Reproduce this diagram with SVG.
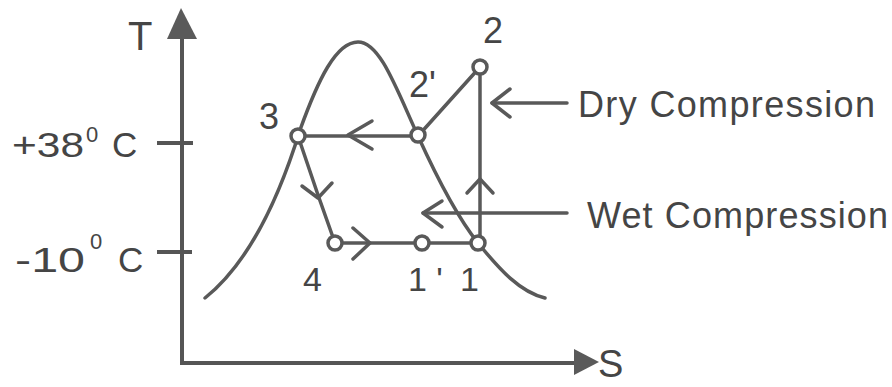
<svg xmlns="http://www.w3.org/2000/svg" width="892" height="387" viewBox="0 0 892 387">
<style>
.ln{fill:none;stroke:#595959;stroke-width:3.5;stroke-linecap:round;stroke-linejoin:round}
.ax{fill:none;stroke:#555;stroke-width:4}
.ah{fill:#5a5a5a;stroke:none}
.pt{fill:#fff;stroke:#595959;stroke-width:3.5}
.t{font-family:"Liberation Sans",Arial,sans-serif;fill:#454545}
</style>
<rect width="892" height="387" fill="#fff"/>
<g id="axes">
<path class="ax" d="M182,36 V363 H578"/>
<polygon class="ah" points="181,8 167,39 197,39"/>
<polygon class="ah" points="599,362 574,349 574,375"/>
<path class="ax" d="M157,143 H193 M157,252 H192"/>
<text class="t" x="128" y="50" font-size="40">T</text>
<text class="t" x="598" y="377" font-size="38">S</text>
<text class="t" x="12" y="157" font-size="35" textLength="72" lengthAdjust="spacingAndGlyphs">+38</text>
<text class="t" x="86" y="142" font-size="22">0</text>
<text class="t" x="112" y="157" font-size="35">C</text>
<text class="t" x="15" y="272" font-size="35" textLength="70" lengthAdjust="spacingAndGlyphs">-10</text>
<text class="t" x="90" y="249" font-size="22">0</text>
<text class="t" x="118" y="272" font-size="35">C</text>
</g>
<g id="dome">
<path class="ln" d="M205,298 C250,262 280,195 300,130 C318,80 336,42 358,42 C380,42 396,88 418,136 C438,180 458,218 478,243 C500,270 520,292 545,298"/>
</g>
<g id="connectors">
<path class="ln" d="M298,136 H418"/>
<path class="ln" d="M372,121 L348,135 L372,149"/>
<path class="ln" d="M418,136 L480,67"/>
<path class="ln" d="M480,67 V243"/>
<path class="ln" d="M467,193 L480,179 L493,193"/>
<path class="ln" d="M298,136 L318,195 L335,243"/>
<path class="ln" d="M302,186 L318,198 L332,183"/>
<path class="ln" d="M335,243 H478"/>
<path class="ln" d="M353,228 L370,243 L353,259"/>
<path class="ln" d="M567,103 H492"/>
<path class="ln" d="M510,89 L492,103 L510,117"/>
<path class="ln" d="M567,213 H423"/>
<path class="ln" d="M442,201 L423,213 L442,227"/>
</g>
<g id="p2"><circle class="pt" cx="480" cy="67" r="7"/><text class="t" x="483" y="43" font-size="36">2</text></g>
<g id="p2p"><circle class="pt" cx="418" cy="135" r="7"/><text class="t" x="409" y="97" font-size="36">2'</text></g>
<g id="p3"><circle class="pt" cx="298" cy="136" r="7"/><text class="t" x="259" y="129" font-size="36">3</text></g>
<g id="p4"><circle class="pt" cx="335" cy="243" r="7"/><text class="t" x="303" y="291" font-size="34">4</text></g>
<g id="p1p"><circle class="pt" cx="422" cy="243" r="7"/><text class="t" x="408" y="291" font-size="34">1 '</text></g>
<g id="p1"><circle class="pt" cx="478" cy="243" r="7"/><text class="t" x="460" y="291" font-size="34">1</text></g>
<g id="labels">
<text class="t" x="578" y="117" font-size="36" textLength="297" lengthAdjust="spacing">Dry Compression</text>
<text class="t" x="587" y="228" font-size="36" textLength="301" lengthAdjust="spacing">Wet Compression</text>
</g>
</svg>
